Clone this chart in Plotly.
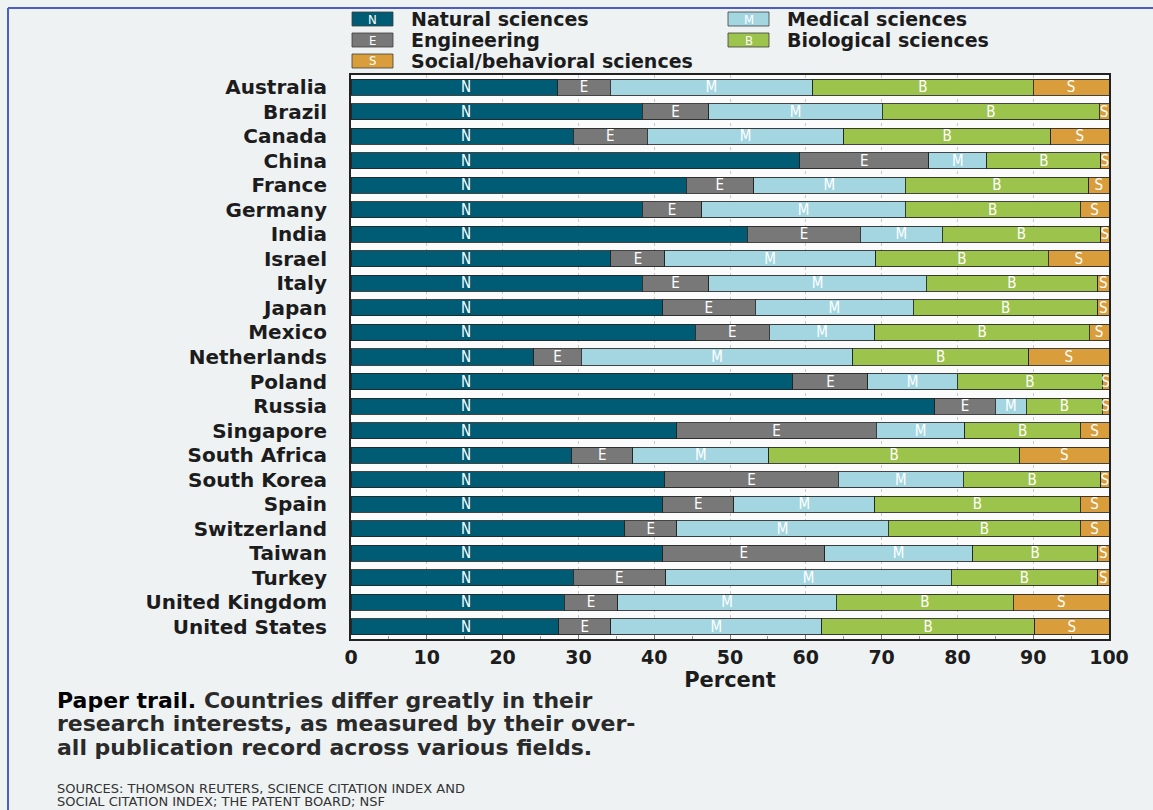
import plotly.graph_objects as go

countries = ["Australia", "Brazil", "Canada", "China", "France", "Germany", "India",
             "Israel", "Italy", "Japan", "Mexico", "Netherlands", "Poland", "Russia",
             "Singapore", "South Africa", "South Korea", "Spain", "Switzerland",
             "Taiwan", "Turkey", "United Kingdom", "United States"]

natural     = [27.3, 38.4, 29.3, 59.2, 44.2, 38.4, 52.3, 34.3, 38.4, 41.1, 45.4, 24.1,
               58.3, 77.0, 43.0, 29.1, 41.4, 41.1, 36.1, 41.1, 29.3, 28.1, 27.4]
engineering = [6.9, 8.8, 9.8, 17.0, 8.9, 7.9, 14.9, 7.1, 8.8, 12.2, 9.8, 6.3,
               9.9, 8.0, 26.3, 8.1, 22.9, 9.4, 6.9, 21.4, 12.2, 7.1, 6.9]
medical     = [26.7, 22.9, 25.9, 7.7, 20.0, 26.8, 10.8, 27.8, 28.7, 20.9, 13.9, 35.8,
               11.8, 4.1, 11.7, 17.9, 16.5, 18.6, 27.9, 19.5, 37.7, 28.8, 27.8]
biological  = [29.1, 28.6, 27.3, 15.0, 24.2, 23.1, 20.9, 22.8, 22.6, 24.3, 28.3, 23.2,
               19.1, 10.0, 15.2, 33.1, 18.1, 27.1, 25.3, 16.5, 19.3, 23.4, 28.1]
social      = [10.0, 1.3, 7.7, 1.1, 2.7, 3.8, 1.1, 8.0, 1.5, 1.5, 2.6, 10.6,
               0.9, 0.9, 3.8, 11.8, 1.1, 3.8, 3.8, 1.5, 1.5, 12.6, 9.8]

field_names = ["Natural sciences", "Engineering", "Medical sciences",
               "Biological sciences", "Social/behavioral sciences"]
field_letters = ["N", "E", "M", "B", "S"]
field_colors = ["#005b74", "#787878", "#a3d6e0", "#9cc34c", "#d99e3b"]
x_ticks = [0, 10, 20, 30, 40, 50, 60, 70, 80, 90, 100]

series = [natural, engineering, medical, biological, social]

W, H = 1153, 810
L, R, T, B = 351, 1109, 75, 639
BG = "#eef2f3"
TXT = "#1c1c1c"
LETTER_FONT = dict(family="DejaVu Sans Condensed, DejaVu Sans", size=15, color="white")
N_LABEL_X = 15.2  # fixed label position inside the natural-sciences segment


def px(x):
    return (x - L) / (R - L)


def py(y):
    return (B - y) / (B - T)


fig = go.Figure()
for i, (vals, name, letter, col) in enumerate(zip(series, field_names, field_letters, field_colors)):
    fig.add_trace(go.Bar(
        x=vals, y=countries, orientation="h", name=name,
        marker=dict(color=col, line=dict(color="rgba(35,35,35,0.85)", width=1)),
        text=None if i == 0 else [letter] * len(countries),
        textposition="inside", insidetextanchor="middle", textangle=0,
        textfont=LETTER_FONT, cliponaxis=True,
        hoverinfo="x+y+name",
    ))

shapes = []
annotations = []

for c in countries:
    annotations.append(dict(xref="x", yref="y", x=N_LABEL_X, y=c, text=field_letters[0],
                            showarrow=False, xanchor="center", yanchor="middle",
                            font=LETTER_FONT))

# custom legend
legend_pos = [(352, 19), (352, 40), (728, 19), (728, 40), (352, 61)]
for (x0, yc), name, letter, col in zip(legend_pos, field_names, field_letters, field_colors):
    shapes.append(dict(type="rect", xref="paper", yref="paper",
                       x0=px(x0), x1=px(x0 + 41), y0=py(yc + 7), y1=py(yc - 7),
                       fillcolor=col, line=dict(color="rgba(60,60,60,0.8)", width=1)))
    annotations.append(dict(xref="paper", yref="paper", x=px(x0 + 20.5), y=py(yc),
                            text=letter, showarrow=False, xanchor="center", yanchor="middle",
                            font=dict(family="DejaVu Sans Condensed, DejaVu Sans", size=13, color="white")))
    annotations.append(dict(xref="paper", yref="paper", x=px(x0 + 57), y=py(yc),
                            text=name, showarrow=False, xanchor="left", yanchor="middle",
                            font=dict(family="DejaVu Sans", size=19, color=TXT, weight="bold")))

# caption
caption_lines = ["<span style='color:#000000'>Paper trail.</span> Countries differ greatly in their",
                 "research interests, as measured by their over-",
                 "all publication record across various fields."]
for line, yc in zip(caption_lines, [700, 723, 747]):
    annotations.append(dict(xref="paper", yref="paper", x=px(55), y=py(yc), text=line,
                            showarrow=False, xanchor="left", yanchor="middle",
                            font=dict(family="DejaVu Sans", size=22, color="#2a2a2a", weight="bold")))

source_lines = ["SOURCES: THOMSON REUTERS, SCIENCE CITATION INDEX AND",
                "SOCIAL CITATION INDEX; THE PATENT BOARD; NSF"]
for line, yc in zip(source_lines, [788, 801]):
    annotations.append(dict(xref="paper", yref="paper", x=px(55), y=py(yc), text=line,
                            showarrow=False, xanchor="left", yanchor="middle",
                            font=dict(family="DejaVu Sans", size=13, color="#333333")))

# page frame (blue edge on left and top)
shapes.append(dict(type="line", xref="paper", yref="paper", x0=px(8), x1=px(1153),
                   y0=py(8), y1=py(8), line=dict(color="#4c5dc6", width=2)))
shapes.append(dict(type="line", xref="paper", yref="paper", x0=px(8), x1=px(8),
                   y0=py(8), y1=py(810), line=dict(color="#4c5dc6", width=2)))

fig.update_layout(
    width=W, height=H,
    margin=dict(l=L, r=W - R, t=T, b=H - B, pad=0),
    barmode="stack", bargap=0.345,
    paper_bgcolor=BG, plot_bgcolor="#fbfbfb",
    showlegend=False,
    uniformtext=dict(minsize=15, mode="show"),
    shapes=shapes, annotations=annotations,
    xaxis=dict(range=[0, 100], tickvals=x_ticks, ticktext=[str(v) for v in x_ticks],
               showgrid=True, gridcolor="#c9c9c9", griddash="dot", gridwidth=1,
               ticks="inside", ticklen=4, tickcolor="#777",
               minor=dict(dtick=5, ticks="inside", ticklen=3, tickcolor="#999", showgrid=False),
               showline=True, linecolor="#222", linewidth=2, mirror=True,
               tickfont=dict(family="DejaVu Sans", size=19, color=TXT, weight="bold"),
               title=dict(text="Percent", standoff=0,
                          font=dict(family="DejaVu Sans", size=21, color=TXT, weight="bold")),
               zeroline=False, fixedrange=True),
    yaxis=dict(type="category", categoryorder="array", categoryarray=countries,
               range=[len(countries) - 0.5, -0.5],
               tickmode="array", tickvals=countries, ticktext=countries,
               showline=True, linecolor="#222", linewidth=2, mirror=True,
               ticks="", ticklabelstandoff=18, showgrid=False,
               tickfont=dict(family="DejaVu Sans", size=20, color=TXT, weight="bold"),
               fixedrange=True),
)

fig.write_html("out.html")
